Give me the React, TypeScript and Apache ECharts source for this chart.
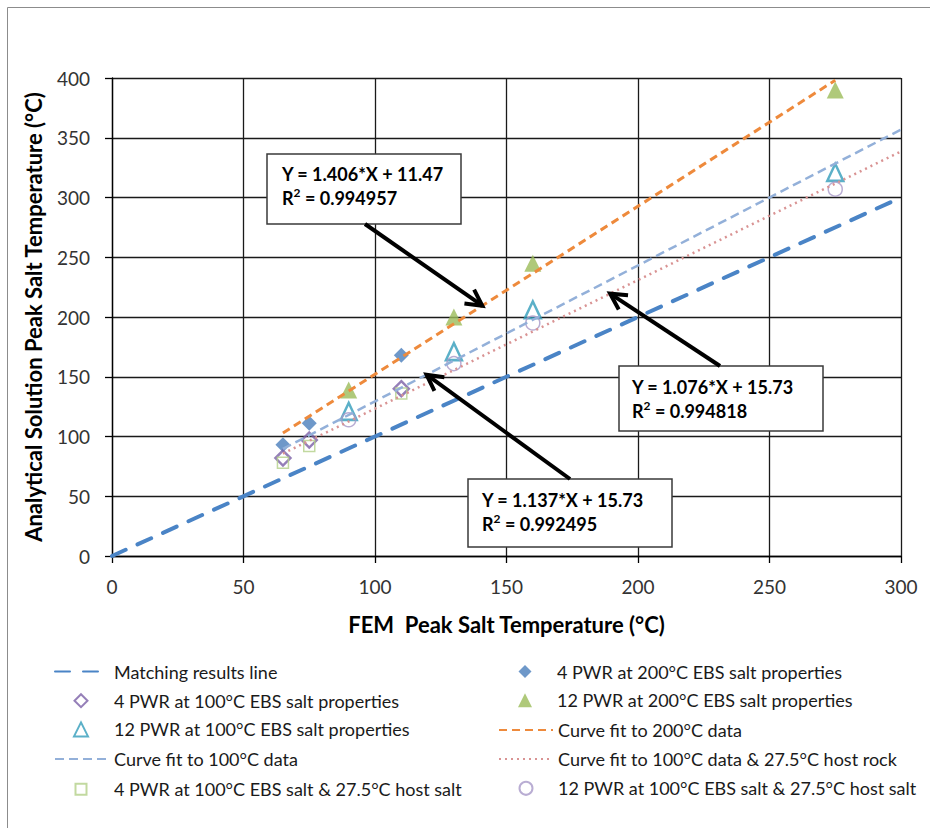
import React, { useEffect, useRef } from "react";
import * as echarts from "echarts";

// FEM peak salt temperatures (°C) for the two canister layouts
const fem4Pwr = [65, 75, 110];
const fem12Pwr = [90, 130, 160, 275];

// Analytical-solution peak salt temperatures (°C)
const pwr4At200 = [93, 111, 168];
const pwr4At100 = [82, 97, 140];
const pwr12At200 = [139, 200, 245, 390];
const pwr12At100 = [121, 171, 206, 321];
const pwr4HostSalt = [78, 92, 136];
const pwr12HostSalt = [114, 161, 195, 307];

// 1:1 reference line
const matchX = [0, 300];

// Linear fits: slope, intercept, R², x-range
const fitNames = [
  "Curve fit to 200°C data",
  "Curve fit to 100°C data",
  "Curve fit to 100°C data & 27.5°C host rock",
];
const fitSlopes = [1.406, 1.137, 1.076];
const fitIntercepts = [11.47, 15.73, 15.73];
const fitR2 = ["0.994957", "0.992495", "0.994818"];
const fitFrom = [65, 65, 65];
const fitTo = [275, 300, 300];

// x position on each fit line where its callout arrow lands
const arrowTipX = [140.8, 119.6, 189.4];

const xTicks = { min: 0, max: 300, step: 50 };
const yTicks = { min: 0, max: 400, step: 50 };

const NAMES = {
  match: "Matching results line",
  p4_200: "4 PWR at 200°C EBS salt properties",
  p4_100: "4 PWR at 100°C EBS salt properties",
  p12_200: "12 PWR at 200°C EBS salt properties",
  p12_100: "12 PWR at 100°C EBS salt properties",
  p4_host: "4 PWR at 100°C EBS salt & 27.5°C host salt",
  p12_host: "12 PWR at 100°C EBS salt & 27.5°C host salt",
};

// Legend layout: two columns of five rows; null icon = line sample
const legendLeftCol: [string, string | null, number][] = [
  [NAMES.match, null, 0],
  [NAMES.p4_100, "diamond", 13],
  [NAMES.p12_100, "triangle", 14],
  [fitNames[1], null, 0],
  [NAMES.p4_host, "rect", 11],
];
const legendRightCol: [string, string | null, number][] = [
  [NAMES.p4_200, "diamond", 13],
  [NAMES.p12_200, "triangle", 14],
  [fitNames[0], null, 0],
  [fitNames[2], null, 0],
  [NAMES.p12_host, "circle", 13],
];

const FONT = "Lato, 'Noto Sans', sans-serif";

const zip = (xs: number[], ys: number[]) => xs.map((x, i) => [x, ys[i]]);
const fitLine = (i: number) => [
  [fitFrom[i], fitSlopes[i] * fitFrom[i] + fitIntercepts[i]],
  [fitTo[i], fitSlopes[i] * fitTo[i] + fitIntercepts[i]],
];

export default function App() {
  const ref = useRef<HTMLDivElement>(null);

  useEffect(() => {
    const chart = echarts.init(ref.current!, null, { renderer: "svg" });

    const hollow = (color: string, width: number) => ({
      color: "rgba(255,255,255,0)",
      borderColor: color,
      borderWidth: width,
    });

    // One legend component per entry so line samples and markers can differ in width
    const buildLegends = (
      col: [string, string | null, number][],
      lineLeft: number,
      markCenter: number,
      textX: number
    ) =>
      col.map(([name, icon, size], k) => {
        const rowCenter = 669 + k * 29.2;
        const isLine = icon === null;
        const w = isLine ? textX - 5 - lineLeft : size;
        const h = isLine ? 13 : size;
        const left = isLine ? lineLeft : markCenter - size / 2;
        const pad = textX - (left + w + 5);
        return {
          orient: "vertical",
          left,
          top: rowCenter - h / 2,
          padding: 0,
          itemWidth: w,
          itemHeight: h,
          selectedMode: false,
          textStyle: {
            fontFamily: FONT,
            fontSize: 18,
            color: "#1a1a1a",
            padding: [0, 0, 0, pad],
          },
          data: [isLine ? { name, itemStyle: { opacity: 0 } } : { name, icon }],
        };
      });

    chart.setOption({
      animation: false,
      backgroundColor: "#fff",
      textStyle: { fontFamily: FONT },
      grid: { left: 112, right: 29, top: 78, bottom: 272 },
      legend: [
        ...buildLegends(legendLeftCol, 54, 80, 113),
        ...buildLegends(legendRightCol, 498, 525, 557),
      ],
      xAxis: {
        type: "value",
        min: xTicks.min,
        max: xTicks.max,
        interval: xTicks.step,
        name: "FEM  Peak Salt Temperature (°C)",
        nameLocation: "middle",
        nameGap: 57,
        nameTextStyle: { fontFamily: FONT, fontWeight: "bold", fontSize: 22, color: "#000" },
        axisLine: { lineStyle: { color: "#000", width: 1.3 } },
        axisTick: { length: 7, lineStyle: { color: "#000", width: 1.3 } },
        axisLabel: { fontFamily: FONT, fontSize: 19, color: "#333", margin: 21 },
        splitLine: { show: true, lineStyle: { color: "#1a1a1a", width: 1.3 } },
      },
      yAxis: {
        type: "value",
        min: yTicks.min,
        max: yTicks.max,
        interval: yTicks.step,
        name: "Analytical Solution Peak Salt Temperature (°C)",
        nameLocation: "middle",
        nameGap: 68,
        nameTextStyle: { fontFamily: FONT, fontWeight: "bold", fontSize: 22, color: "#000" },
        axisLine: { show: true, lineStyle: { color: "#000", width: 1.3 } },
        axisTick: { show: true, length: 7, lineStyle: { color: "#000", width: 1.3 } },
        axisLabel: { fontFamily: FONT, fontSize: 19, color: "#333", margin: 22 },
        splitLine: { show: true, lineStyle: { color: "#1a1a1a", width: 1.3 } },
      },
      series: [
        {
          name: NAMES.match,
          type: "line",
          data: matchX.map((x) => [x, x]),
          symbol: "none",
          lineStyle: { color: "#4a84c6", width: 4, type: [15, 13], cap: "round" },
          itemStyle: { color: "#4a84c6" },
          z: 3,
        },
        {
          name: NAMES.p4_200,
          type: "scatter",
          data: zip(fem4Pwr, pwr4At200),
          symbol: "diamond",
          symbolSize: 15,
          itemStyle: { color: "#4a7ebb" },
          z: 4,
        },
        {
          name: NAMES.p4_100,
          type: "scatter",
          data: zip(fem4Pwr, pwr4At100),
          symbol: "diamond",
          symbolSize: 15,
          itemStyle: hollow("#7a5fa6", 2.5),
          z: 4,
        },
        {
          name: NAMES.p12_200,
          type: "scatter",
          data: zip(fem12Pwr, pwr12At200),
          symbol: "triangle",
          symbolSize: [17, 17],
          itemStyle: { color: "#9bbb59" },
          z: 4,
        },
        {
          name: NAMES.p12_100,
          type: "scatter",
          data: zip(fem12Pwr, pwr12At100),
          symbol: "triangle",
          symbolSize: [16, 17],
          itemStyle: hollow("#329cba", 2.5),
          z: 4,
        },
        {
          name: fitNames[0],
          type: "line",
          data: fitLine(0),
          symbol: "none",
          lineStyle: { color: "#ee8a3c", width: 3, type: [8, 5] },
          itemStyle: { color: "#ee8a3c" },
          z: 5,
        },
        {
          name: fitNames[1],
          type: "line",
          data: fitLine(1),
          symbol: "none",
          lineStyle: { color: "#93b0d9", width: 2.5, type: [9, 5] },
          itemStyle: { color: "#93b0d9" },
          z: 5,
        },
        {
          name: fitNames[2],
          type: "line",
          data: fitLine(2),
          symbol: "none",
          lineStyle: { color: "#d99393", width: 2.5, type: [2, 4] },
          itemStyle: { color: "#d99393" },
          z: 5,
        },
        {
          name: NAMES.p4_host,
          type: "scatter",
          data: zip(fem4Pwr, pwr4HostSalt),
          symbol: "rect",
          symbolSize: 11,
          itemStyle: hollow("#b3cf88", 1.5),
          z: 4,
        },
        {
          name: NAMES.p12_host,
          type: "scatter",
          data: zip(fem12Pwr, pwr12HostSalt),
          symbol: "circle",
          symbolSize: 14,
          itemStyle: hollow("#a898c8", 1.5),
          z: 4,
        },
      ],
    });

    // Callout boxes with their equation text and arrow tail position
    const callouts = [
      { box: [267, 154, 194, 70], text: [282, 162], fit: 0, tail: [365, 224] },
      { box: [468, 479, 204, 68], text: [482, 488], fit: 1, tail: [570, 479] },
      { box: [619, 366, 204, 65], text: [632, 375], fit: 2, tail: [720, 366] },
    ];

    const graphics: any[] = [
      {
        type: "rect",
        silent: true,
        shape: { x: 7.5, y: 7.5, width: 940, height: 840 },
        style: { fill: "none", stroke: "#8c8c8c", lineWidth: 1 },
        z: 0,
      },
    ];

    callouts.forEach((c) => {
      const i = c.fit;
      graphics.push({
        type: "rect",
        shape: { x: c.box[0], y: c.box[1], width: c.box[2], height: c.box[3] },
        style: { fill: "#fff", stroke: "#3a3a3a", lineWidth: 1.5 },
        z: 100,
      });
      graphics.push({
        type: "text",
        x: c.text[0],
        y: c.text[1],
        style: {
          text: `Y = ${fitSlopes[i].toFixed(3)}*X + ${fitIntercepts[i].toFixed(2)}\nR{sup|2} = ${fitR2[i]}`,
          fontFamily: FONT,
          fontWeight: "bold",
          fontSize: 18,
          lineHeight: 24,
          fill: "#000",
          verticalAlign: "top",
          rich: {
            sup: {
              fontFamily: FONT,
              fontWeight: "bold",
              fontSize: 12,
              fill: "#000",
              verticalAlign: "top",
              padding: [0, 0, 8, 0],
            },
          },
        },
        z: 101,
      });

      // Arrow from the box to its fit line
      const tx = arrowTipX[i];
      const tip = chart.convertToPixel({ gridIndex: 0 }, [
        tx,
        fitSlopes[i] * tx + fitIntercepts[i],
      ]) as number[];
      const [sx, sy] = c.tail;
      const ang = Math.atan2(tip[1] - sy, tip[0] - sx);
      const arm = 18;
      const spread = (28 * Math.PI) / 180;
      const p1 = [tip[0] - arm * Math.cos(ang - spread), tip[1] - arm * Math.sin(ang - spread)];
      const p2 = [tip[0] - arm * Math.cos(ang + spread), tip[1] - arm * Math.sin(ang + spread)];
      graphics.push({
        type: "line",
        shape: { x1: sx, y1: sy, x2: tip[0], y2: tip[1] },
        style: { stroke: "#000", lineWidth: 4 },
        z: 102,
      });
      graphics.push({
        type: "polyline",
        shape: { points: [p1, tip, p2] },
        style: { stroke: "#000", lineWidth: 4, fill: "none", lineJoin: "miter" },
        z: 102,
      });
    });

    chart.setOption({ graphic: graphics });

    return () => chart.dispose();
  }, []);

  return (
    <div
      ref={ref}
      style={{ position: "absolute", left: 0, top: 0, width: 930, height: 828, background: "#fff" }}
    />
  );
}
